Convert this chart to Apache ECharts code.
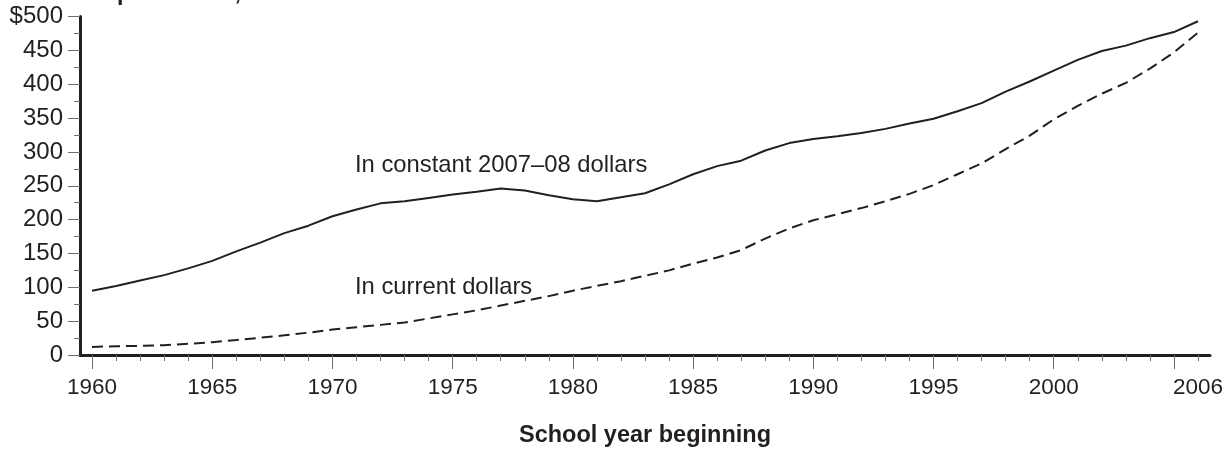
<!DOCTYPE html>
<html>
<head>
<meta charset="utf-8">
<script src="https://cdn.jsdelivr.net/npm/echarts@6/dist/echarts.min.js"></script>
<style>
html,body{margin:0;padding:0;background:#fff;}
#c{width:1232px;height:453px;}
</style>
</head>
<body>
<div id="c"></div>
<script>
const years = [1960,1961,1962,1963,1964,1965,1966,1967,1968,1969,1970,1971,1972,1973,1974,1975,1976,1977,1978,1979,1980,1981,1982,1983,1984,1985,1986,1987,1988,1989,1990,1991,1992,1993,1994,1995,1996,1997,1998,1999,2000,2001,2002,2003,2004,2005,2006];
const constantDollars = [95,102,110,118,128,139,153,166,180,191,205,215,224,227,232,237,241,246,243,236,230,227,233,239,252,267,279,287,302,313,319,323,328,334,342,349,360,372,389,404,420,436,449,457,468,477,493];
const currentDollars = [12,13,13.5,14.5,16.5,19,22,25.5,29,33,37.5,41,44.5,48,54,60,66,73,80,87,95,102,109,117,125,135,144,155,172,187,199,208,217,227,238,251,267,283,304,324,348,368,386,402,423,447,476];
const majorTickYears = [1960,1965,1970,1975,1980,1985,1990,1995,2000,2005];
const xLabelYears = [1960,1965,1970,1975,1980,1985,1990,1995,2000,2006];
const yTicks = [0,50,100,150,200,250,300,350,400,450,500];
const titleText = 'Current expenditures, in billions';
const xAxisTitle = 'School year beginning';
const constantLabel = 'In constant 2007\u201308 dollars';
const currentLabel = 'In current dollars';

const ink = '#231f20';
const FONT = '"Liberation Sans", Arial, Helvetica, sans-serif';

const chart = echarts.init(document.getElementById('c'), null, {renderer:'canvas'});
chart.setOption({
  animation: false,
  backgroundColor: '#ffffff',
  grid: {left: 80, right: 22, top: 16.5, bottom: 91, containLabel: false},
  xAxis: [
    {
      type: 'value', min: 1959.5, max: 2006.5,
      axisLine: {show: true, onZero: false, lineStyle: {color: ink, width: 3}},
      axisTick: {show: true, length: 14, customValues: majorTickYears, lineStyle: {color: '#6d6d6d', width: 1}},
      axisLabel: {show: true, customValues: xLabelYears, margin: 21, fontSize: 22.5, color: ink, fontFamily: FONT,
        formatter: v => String(v)},
      splitLine: {show: false},
      name: xAxisTitle, nameLocation: 'middle', nameGap: 69,
      nameTextStyle: {fontSize: 23.5, fontWeight: 'bold', color: ink, fontFamily: FONT}
    },
    {
      type: 'value', min: 1959.5, max: 2006.5, position: 'bottom',
      axisLine: {show: false},
      axisTick: {show: true, length: 6, customValues: years, lineStyle: {color: '#6d6d6d', width: 1}},
      axisLabel: {show: false},
      splitLine: {show: false}
    }
  ],
  yAxis: {
    type: 'value', min: 0, max: 500, interval: 50,
    axisLine: {show: true, lineStyle: {color: ink, width: 3}},
    axisTick: {show: true, length: 12, lineStyle: {color: '#6d6d6d', width: 1}},
    minorTick: {show: true, splitNumber: 2, length: 6, lineStyle: {color: '#6d6d6d', width: 1}},
    axisLabel: {show: true, margin: 17, fontSize: 24, color: ink, fontFamily: FONT,
      formatter: v => (v === yTicks[yTicks.length - 1] ? '$' + v : String(v))},
    splitLine: {show: false}
  },
  series: [
    {
      name: constantLabel, type: 'line', xAxisIndex: 0, symbol: 'none', smooth: false,
      data: years.map((y, i) => [y, constantDollars[i]]),
      lineStyle: {color: ink, width: 2}
    },
    {
      name: currentLabel, type: 'line', xAxisIndex: 0, symbol: 'none', smooth: false,
      data: years.map((y, i) => [y, currentDollars[i]]),
      lineStyle: {color: ink, width: 2, type: [11, 6]}
    }
  ],
  graphic: [
    {type: 'text', left: 2, top: -18, style: {text: titleText, font: 'bold 23px ' + FONT, fill: ink}},
    {type: 'text', left: 355, top: 153, style: {text: constantLabel, font: '23.8px ' + FONT, fill: ink}},
    {type: 'text', left: 355, top: 275, style: {text: currentLabel, font: '23.8px ' + FONT, fill: ink}}
  ]
});
</script>
</body>
</html>
